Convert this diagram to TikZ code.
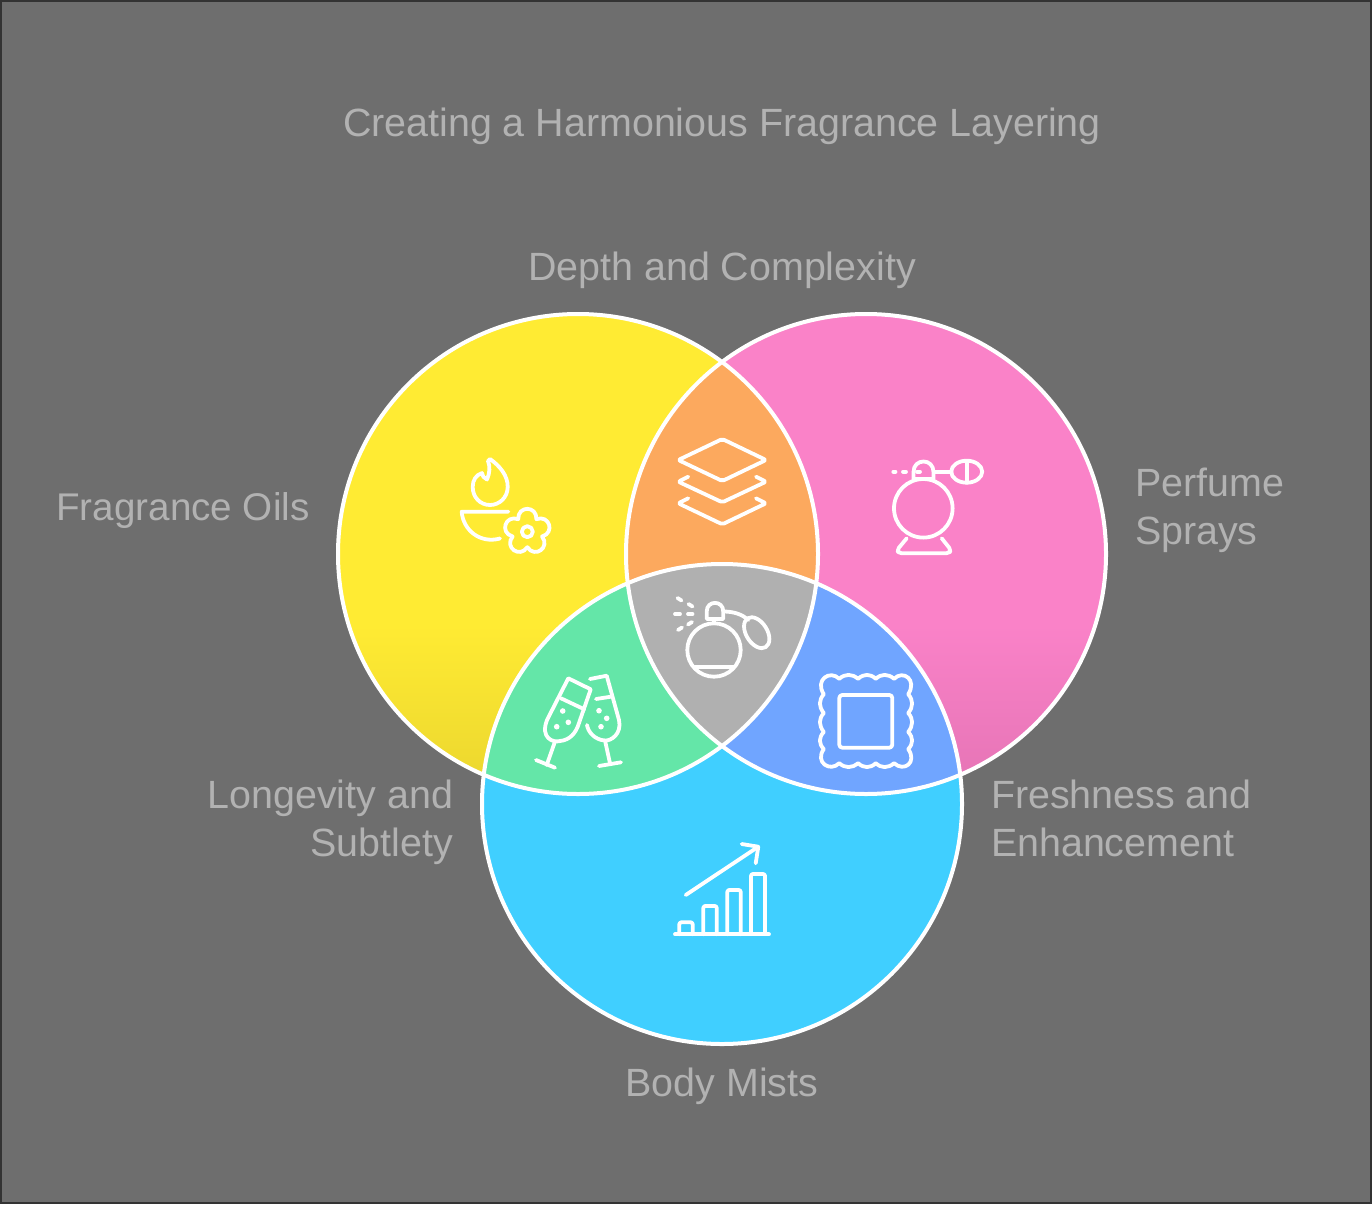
\documentclass[tikz,border=0pt]{standalone}
\usepackage{fontspec}
\setmainfont{Liberation Sans}
\definecolor{bgc}{HTML}{6E6E6E}
\definecolor{edgec}{HTML}{333333}
\definecolor{txtc}{HTML}{B2B2B2}
\definecolor{yel}{HTML}{FFEB33}
\definecolor{yeld}{HTML}{EAD52E}
\definecolor{pnk}{HTML}{FA82C8}
\definecolor{pnkd}{HTML}{E473B4}
\definecolor{sky}{HTML}{40CFFF}
\definecolor{org}{HTML}{FCA95E}
\definecolor{grn}{HTML}{64E6A8}
\definecolor{blu}{HTML}{70A5FF}
\definecolor{gry}{HTML}{B0B0B0}
\tikzset{
  lbl/.style={text=txtc,font=\fontsize{39.4}{48}\selectfont,inner sep=0pt,outer sep=0pt},
  ico/.style={draw=white,line width=3.8pt,line cap=round,line join=round},
  ring/.style={draw=white,line width=4pt},
}
\newcommand{\cA}{(578,554) circle[radius=240]}
\newcommand{\cB}{(866,554) circle[radius=240]}
\newcommand{\cC}{(722,804) circle[radius=240]}
\begin{document}
\begin{tikzpicture}[x=1pt,y=-1pt]
\useasboundingbox (0,0) rectangle (1372,1204);
\fill[edgec] (0,0) rectangle (1372,1204);
\fill[bgc] (2,2) rectangle (1370,1202);
% circles
\fill[yel] \cA;
\begin{scope}\clip \cA; \shade[top color=yel,bottom color=yeld] (330,625) rectangle (826,800);\end{scope}
\fill[pnk] \cB;
\begin{scope}\clip \cB; \shade[top color=pnk,bottom color=pnkd] (620,625) rectangle (1112,800);\end{scope}
\fill[sky] \cC;
\begin{scope}\clip \cA; \fill[org] \cB; \fill[grn] \cC; \end{scope}
\begin{scope}\clip \cB; \fill[blu] \cC; \end{scope}
\begin{scope}\clip \cA; \clip \cB; \fill[gry] \cC; \end{scope}
\draw[ring] \cA; \draw[ring] \cB; \draw[ring] \cC;
% labels
\node[lbl,anchor=base] (title) at (722,136) {Creating a Harmonious Fragrance Layering};
\node[lbl,anchor=base] (depth) at (722,280) {Depth and Complexity};
\node[lbl,anchor=base east,font=\fontsize{38.6}{48}\selectfont] (oils) at (309.5,520) {Fragrance Oils};
\node[lbl,anchor=base west] (spr1) at (1135,496) {Perfume};
\node[lbl,anchor=base west] (spr2) at (1135,544) {Sprays};
\node[lbl,anchor=base east] (lon1) at (453,808) {Longevity and};
\node[lbl,anchor=base east] (lon2) at (453,856) {Subtlety};
\node[lbl,anchor=base west] (fre1) at (991,808) {Freshness and};
\node[lbl,anchor=base west] (fre2) at (991,856) {Enhancement};
\node[lbl,anchor=base] (mists) at (722,1096) {Body Mists};
% flame + bowl + flower
\draw[ico] (490,459) .. controls (500,466) and (508,476) .. (507.7,487) .. controls (507.5,498) and (499,505) .. (490,505) .. controls (480,505) and (472.7,497) .. (472.7,487) .. controls (472.7,480) and (476,475) .. (482,473) .. controls (482,476) and (484,478) .. (487,479.5) .. controls (490,473) and (490,466) .. (488,461) -- cycle;
\draw[ico] (508.3,511.7) -- (461.7,511.7) .. controls (463,530) and (480,544) .. (500,538.5);
\draw[ico] (527.3,531.7) circle[radius=5.5];
\draw[ico] ({527.3+15.5*cos(-126)},{531.7+15.5*sin(-126)})
 foreach \a in {-90,-18,54,126,198} {
  .. controls ({527.3+28*cos(\a-20)},{531.7+28*sin(\a-20)}) and ({527.3+28*cos(\a+20)},{531.7+28*sin(\a+20)}) .. ({527.3+15.5*cos(\a+36)},{531.7+15.5*sin(\a+36)})
 } -- cycle;
% layers
\draw[ico,rounded corners=2pt] (722.3,439) -- (766,460) -- (722.3,481) -- (678.3,460) -- cycle;
\draw[ico,rounded corners=2pt] (688.3,476.7) -- (678.3,481.7) -- (722.3,502.3) -- (766,481.7) -- (756,476.7);
\draw[ico,rounded corners=2pt] (688.3,498.3) -- (678.3,503.3) -- (722.3,524.3) -- (766,503.3) -- (756,498.3);
% perfume spray
\draw[ico] (923.3,508.3) circle[radius=29.3];
\draw[ico,rounded corners=3pt] (906.7,538.3) -- (897,550) -- (899,553.3) -- (949,553.3) -- (951,550) -- (941.7,538.3);
\draw[ico] (913.5,479) -- (913.5,472) .. controls (913.5,458) and (933.5,458) .. (933.5,472) -- (933.5,479) -- cycle;
\draw[ico] (917,471.7) -- (920,471.7);
\draw[ico] (893.3,471.7) -- (895.5,471.7);
\draw[ico] (903,471.7) -- (906,471.7);
\draw[ico] (935,471.7) -- (951.5,471.7);
\draw[ico] (966.7,471.7) ellipse[x radius=15.5,y radius=11];
\draw[ico] (966.7,461) -- (966.7,482.5);
% centre atomizer
\draw[ico] (714,650) circle[radius=26.7];
\draw[ico] (695,666.7) -- (733.3,666.7);
\draw[ico] (706.7,619) -- (706.7,611.5) .. controls (706.7,600) and (723.3,600) .. (723.3,611.5) -- (723.3,619) -- cycle;
\draw[ico] (714,619) -- (714,623);
\draw[ico] (723.3,611.5) .. controls (733,611.5) and (742,614) .. (748.3,620);
\draw[ico,rotate around={-58:(756.7,632.7)}] (756.7,632.7) ellipse[x radius=17,y radius=10.5];
\draw[ico] (677.5,598) -- (681.5,600.5);
\draw[ico] (688.5,604) -- (692.5,606.5);
\draw[ico] (675,614) -- (680,614);
\draw[ico] (688,614) -- (692.5,614);
\draw[ico] (678,630) -- (682,627.5);
\draw[ico] (688,624.5) -- (692,622);
% glasses
\draw[ico] (590.7,689.3) -- (568.3,678.3) -- (547,720) .. controls (540,738) and (553,743) .. (560,741) .. controls (570,740) and (576,733) .. (579,723) -- cycle;
\draw[ico] (561,698.3) -- (584.3,709.3);
\draw[ico] (555,741.5) -- (546.7,765);
\draw[ico] (536,760) -- (555,767.7);
\fill[white] (562.7,711) circle[radius=2.8] (568.3,722.3) circle[radius=2.8] (556.7,726.7) circle[radius=2.8];
\draw[ico] (590,679) -- (606.7,675.7) -- (619,720) .. controls (622,734) and (611,741) .. (605,740.5) .. controls (595,740) and (588,732) .. (587,725);
\draw[ico] (596,699) -- (611,696.7);
\draw[ico] (605,740.5) -- (610,763.3);
\draw[ico] (599,766) -- (621,762.3);
\fill[white] (599,710.7) circle[radius=2.8] (606.7,718.3) circle[radius=2.8] (601,726.7) circle[radius=2.8];
% frame
\draw[ico,line cap=butt,shift={(866,721.5)},scale=1.03,shift={(-866,-721.5)}] (840,680)
 .. controls (846,675) and (852,675) .. (858.3,680)
 .. controls (864,675) and (870,675) .. (875.5,680)
 .. controls (881,675) and (887,675) .. (893.3,680)
 .. controls (902,671) and (916,681) .. (907,695)
 .. controls (912,701) and (912,707) .. (907,713.3)
 .. controls (912,719) and (912,725) .. (907,731.7)
 .. controls (912,737) and (912,743) .. (907,748.3)
 .. controls (916,761) and (903,771) .. (893.3,762)
 .. controls (887,767) and (881,767) .. (875.5,762)
 .. controls (870,767) and (864,767) .. (858.3,762)
 .. controls (852,767) and (846,767) .. (840,762)
 .. controls (831,771) and (816,761) .. (825,748.3)
 .. controls (820,743) and (820,737) .. (825,731.7)
 .. controls (820,725) and (820,719) .. (825,713.3)
 .. controls (820,707) and (820,701) .. (825,695)
 .. controls (816,681) and (831,671) .. (840,680) -- cycle;
\draw[ico,rounded corners=3pt] (839.3,695) rectangle (892.3,747.7);
% chart
\draw[ico] (685.7,895) -- (758.3,846.7);
\draw[ico] (741.7,844) -- (758.3,846.7) -- (755.7,863.3);
\draw[ico] (675,934.3) -- (769,934.3);
\draw[ico,rounded corners=2pt] (679.3,934.3) -- (679.3,922.3) -- (692.7,922.3) -- (692.7,934.3);
\draw[ico,rounded corners=2pt] (703.3,934.3) -- (703.3,906) -- (716.7,906) -- (716.7,934.3);
\draw[ico,rounded corners=2pt] (727.3,934.3) -- (727.3,890) -- (740.7,890) -- (740.7,934.3);
\draw[ico,rounded corners=2pt] (751,934.3) -- (751,874) -- (765,874) -- (765,934.3);
\end{tikzpicture}
\end{document}
